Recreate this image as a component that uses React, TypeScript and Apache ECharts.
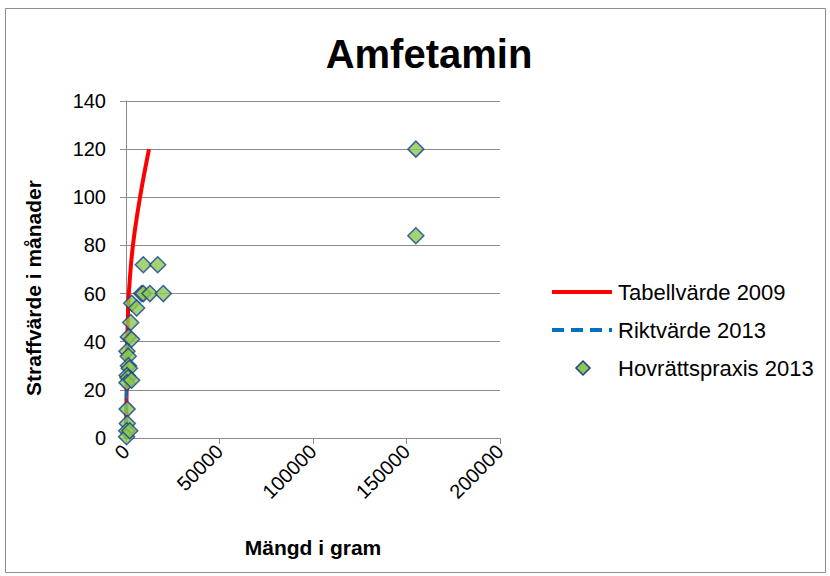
import React, { useEffect, useRef } from "react";
import * as echarts from "echarts";

const titleText = "Amfetamin";
const xAxisName = "Mängd i gram";
const yAxisName = "Straffvärde i månader";

const tabellX = [0, 200, 500, 1000, 1500, 3700, 7500, 12300];
const tabellY = [0, 12, 30, 50, 60, 80, 100, 120];

const riktX = [0, 50, 150, 300, 600, 1000];
const riktY = [0, 6, 14, 22, 32, 40];

const praxisX = [155000, 155000, 9250, 16950, 8400, 9250, 12800, 19950, 3050, 5700, 2500, 1250, 3000, 500, 1200, 1300, 1800, 600, 1100, 500, 3000, 600, 700, 400, 300, 2000];
const praxisY = [120, 84, 72, 72, 60, 60, 60, 60, 56, 54, 48, 42, 41, 36, 34, 30, 29, 26, 25, 23, 24, 12, 6, 3, 0.5, 3];

const legendNames = ["Tabellvärde 2009", "Riktvärde 2013", "Hovrättspraxis 2013"];

export default function App() {
  const ref = useRef<HTMLDivElement>(null);
  useEffect(() => {
    const chart = echarts.init(ref.current!, undefined, { renderer: "svg" });
    const font = "'Liberation Sans', Arial, sans-serif";
    const legendText = (txt: string, y: number) => ({
      type: "text",
      x: 618,
      y,
      style: {
        text: txt,
        fontFamily: font,
        fontSize: 22,
        fill: "#000",
        textVerticalAlign: "middle",
        verticalAlign: "middle",
      },
      silent: true,
    });
    chart.setOption({
      animation: false,
      backgroundColor: "#ffffff",
      title: {
        text: titleText,
        left: 424,
        textAlign: "center",
        top: 29,
        textStyle: { fontFamily: font, fontSize: 40, fontWeight: "bold", color: "#000" },
      },
      graphic: [
        {
          type: "rect",
          shape: { x: 5.5, y: 8.5, width: 820, height: 564 },
          style: { fill: "none", stroke: "#8c8c8c", lineWidth: 1 },
          silent: true,
        },
        {
          type: "text",
          x: 33,
          y: 288,
          rotation: Math.PI / 2,
          style: {
            text: yAxisName,
            fontFamily: font,
            fontSize: 21,
            fontWeight: "bold",
            fill: "#000",
            align: "center",
            verticalAlign: "middle",
          },
          silent: true,
        },
        {
          type: "line",
          shape: { x1: 552, y1: 292, x2: 612, y2: 292 },
          style: { stroke: "#ff0000", lineWidth: 4 },
          silent: true,
        },
        {
          type: "line",
          shape: { x1: 552, y1: 330, x2: 612, y2: 330 },
          style: { stroke: "#0070c0", lineWidth: 4, lineDash: [12, 7] },
          silent: true,
        },
        {
          type: "polygon",
          shape: { points: [[583, 361], [590, 368], [583, 375], [576, 368]] },
          style: { fill: "#8cc850", stroke: "#173f91", lineWidth: 1.5 },
          silent: true,
        },
        legendText(legendNames[0], 292),
        legendText(legendNames[1], 330),
        legendText(legendNames[2], 368),
      ],
      grid: { left: 126, right: 330, top: 101, bottom: 138 },
      xAxis: {
        type: "value",
        min: 0,
        max: 200000,
        interval: 50000,
        name: xAxisName,
        nameLocation: "middle",
        nameGap: 99,
        nameTextStyle: { fontFamily: font, fontSize: 21, fontWeight: "bold", color: "#000" },
        axisLine: { show: true, lineStyle: { color: "#8c8c8c", width: 1 } },
        axisTick: { show: true, length: 6, lineStyle: { color: "#8c8c8c" } },
        axisLabel: {
          rotate: 45,
          fontFamily: font,
          fontSize: 20,
          color: "#000",
          margin: 10,
          formatter: (v: number) => String(v),
        },
        splitLine: { show: false },
      },
      yAxis: {
        type: "value",
        min: 0,
        max: 140,
        interval: 20,
        axisLine: { show: true, lineStyle: { color: "#8c8c8c", width: 1 } },
        axisTick: { show: true, length: 6, lineStyle: { color: "#8c8c8c" } },
        axisLabel: { fontFamily: font, fontSize: 20, color: "#000", margin: 20 },
        splitLine: { show: true, lineStyle: { color: "#8c8c8c", width: 1 } },
      },
      series: [
        {
          name: legendNames[0],
          type: "line",
          smooth: 0.4,
          showSymbol: false,
          symbol: "none",
          data: tabellX.map((x, i) => [x, tabellY[i]]),
          lineStyle: { color: "#ff0000", width: 4 },
          itemStyle: { color: "#ff0000" },
          z: 2,
        },
        {
          name: legendNames[1],
          type: "line",
          showSymbol: false,
          symbol: "none",
          data: riktX.map((x, i) => [x, riktY[i]]),
          lineStyle: { color: "#0070c0", width: 3, type: [8, 5] },
          itemStyle: { color: "#0070c0" },
          z: 2,
        },
        {
          name: legendNames[2],
          type: "scatter",
          symbol: "diamond",
          symbolSize: 16,
          data: praxisX.map((x, i) => [x, praxisY[i]]),
          itemStyle: { color: "#8cc850", borderColor: "#173f91", borderWidth: 1.5 },
          z: 3,
        },
      ],
    });
    return () => chart.dispose();
  }, []);
  return <div ref={ref} style={{ width: 830, height: 576, position: "absolute", left: 0, top: 0 }} />;
}
